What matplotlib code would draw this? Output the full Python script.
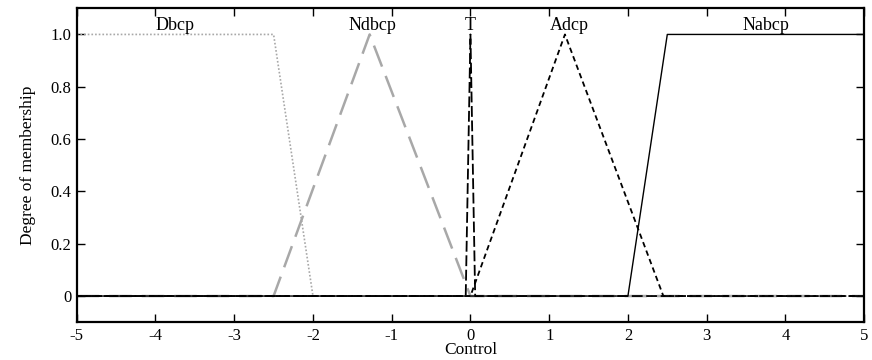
import matplotlib
matplotlib.use("Agg")
import matplotlib.pyplot as plt

plt.rcParams['font.family'] = ['Liberation Serif', 'DejaVu Serif']
plt.rcParams['axes.unicode_minus'] = False

# Membership functions (breakpoints on the Control axis, membership degrees)
dbcp_x = [-5, -2.5, -2.0, 5]
dbcp_y = [1, 1, 0, 0]
ndbcp_x = [-5, -2.5, -1.28, 0.0, 5]
ndbcp_y = [0, 0, 1, 0, 0]
t_x = [-5, -0.06, 0.0, 0.06, 5]
t_y = [0, 0, 1, 0, 0]
adcp_x = [-5, 0.0, 1.2, 2.45, 5]
adcp_y = [0, 0, 1, 0, 0]
nabcp_x = [-5, 2.0, 2.5, 5]
nabcp_y = [0, 0, 1, 1]

set_names = ["Dbcp", "Ndbcp", "T", "Adcp", "Nabcp"]
name_x = [-3.75, -1.25, 0.0, 1.25, 3.75]

x_ticks = [-5, -4, -3, -2, -1, 0, 1, 2, 3, 4, 5]
y_ticks = [0, 0.2, 0.4, 0.6, 0.8, 1.0]
y_tick_labels = ["0", "0.2", "0.4", "0.6", "0.8", "1.0"]

fig = plt.figure(figsize=(8.72, 3.6), dpi=100)
ax = fig.add_axes([0.088, 0.105, 0.903, 0.872])

ax.plot(dbcp_x, dbcp_y, color='#a8a8a8', lw=1.2, linestyle=(0, (1, 1.2)))
ax.plot(ndbcp_x, ndbcp_y, color='#a8a8a8', lw=1.8, linestyle=(0, (9, 4)))
ax.plot(t_x, t_y, color='black', lw=1.3, linestyle=(0, (6, 2)))
ax.plot(adcp_x, adcp_y, color='black', lw=1.3, linestyle=(0, (3, 2)))
ax.plot(nabcp_x, nabcp_y, color='black', lw=1.0, linestyle='-')

for name, xv in zip(set_names, name_x):
    ax.text(xv, 1.035, name, ha='center', va='center', fontsize=13)

ax.set_xlim(-5, 5)
ax.set_ylim(-0.1, 1.1)
ax.set_xticks(x_ticks)
ax.set_xticklabels([str(v) for v in x_ticks])
ax.set_yticks(y_ticks)
ax.set_yticklabels(y_tick_labels)
ax.tick_params(direction='in', top=True, right=True, length=6, width=1,
               labelsize=12, pad=4)
for s in ax.spines.values():
    s.set_linewidth(1.6)

ax.set_xlabel("Control", fontsize=12.5, labelpad=-1)
ax.set_ylabel("Degree of membership", fontsize=12.5, labelpad=10)

fig.savefig("out.png", dpi=100)
